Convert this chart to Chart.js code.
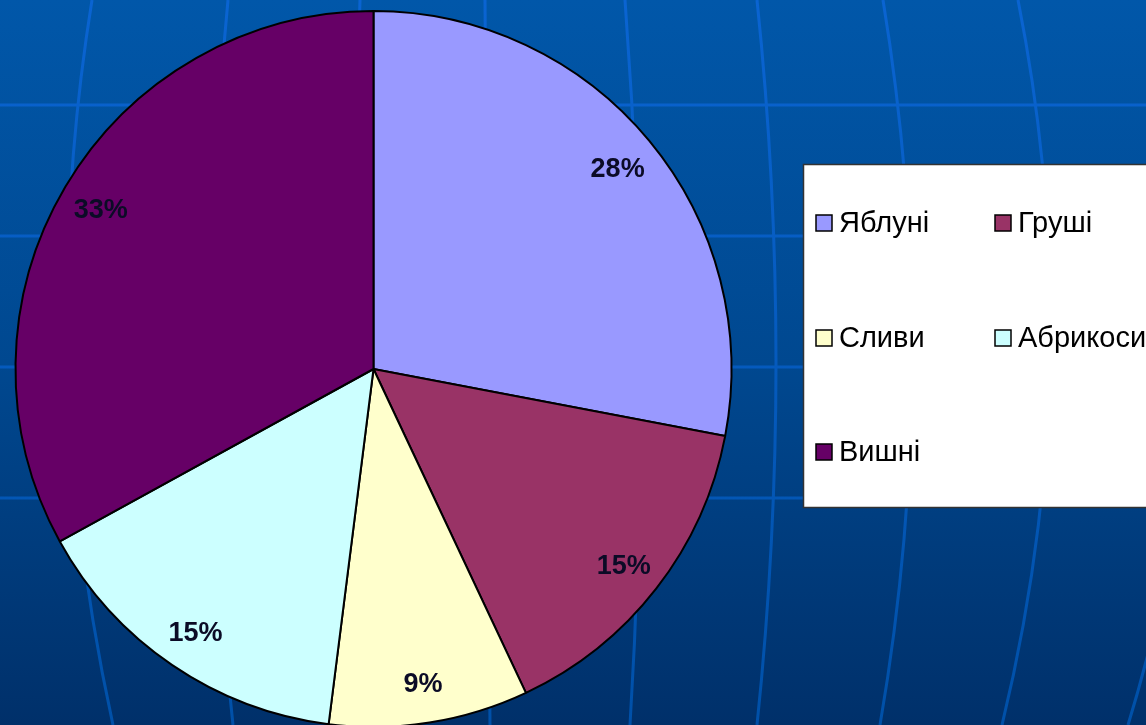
<!DOCTYPE html>
<html>
<head>
<meta charset="utf-8">
<script src="https://cdn.jsdelivr.net/npm/chart.js@4/dist/chart.umd.min.js"></script>
<style>
  html, body { margin: 0; padding: 0; background: #00448a; overflow: hidden; }
  #wrap { width: 1146px; height: 725px; position: relative; }
</style>
</head>
<body>
<div id="wrap"><canvas id="pieChart" width="1146" height="725"></canvas></div>
<script>
const categories = ['Яблуні', 'Груші', 'Сливи', 'Абрикоси', 'Вишні'];
const values = [28, 15, 9, 15, 33];
const sliceColors = ['#9999FF', '#993366', '#FFFFCC', '#CCFFFF', '#660066'];

// slide-style background: gradient plus a bent grid
const backdrop = {
    id: 'backdrop',
    beforeDraw(chart) {
        const ctx = chart.ctx;
        const w = chart.width, h = chart.height;
        ctx.save();
        const g = ctx.createLinearGradient(0, 0, 0, h);
        g.addColorStop(0, '#0157A9');
        g.addColorStop(0.5, '#004890');
        g.addColorStop(1, '#00306A');
        ctx.fillStyle = g;
        ctx.fillRect(0, 0, w, h);

        const lg = ctx.createLinearGradient(0, 0, 0, h);
        lg.addColorStop(0, '#0A64D2');
        lg.addColorStop(1, '#0050A8');
        ctx.strokeStyle = lg;
        ctx.lineWidth = 3;
        [105, 236, 367, 498].forEach(y => {
            ctx.beginPath();
            ctx.moveTo(0, y);
            ctx.lineTo(w, y);
            ctx.stroke();
        });
        const verticals = [
            [92, 68, 113], [228, 212, 233], [360, 355, 365], [485, 487, 490],
            [625, 640, 630], [757, 776, 757], [883, 912, 880], [1018, 1050, 1002],
            [1162, 1192, 1128]
        ];
        verticals.forEach(([top, mid, bottom]) => {
            const c = 2 * mid - (top + bottom) / 2;
            ctx.beginPath();
            ctx.moveTo(top, 0);
            ctx.quadraticCurveTo(c, h / 2, bottom, h);
            ctx.stroke();
        });
        ctx.restore();
    }
};

const sliceLabels = {
    id: 'sliceLabels',
    afterDatasetsDraw(chart) {
        const ctx = chart.ctx;
        const data = chart.data.datasets[0].data;
        const total = data.reduce((a, b) => a + b, 0);
        ctx.save();
        ctx.font = 'bold 27px "Liberation Sans", Arial, sans-serif';
        ctx.fillStyle = '#0B0B26';
        ctx.textAlign = 'center';
        ctx.textBaseline = 'middle';
        chart.getDatasetMeta(0).data.forEach((arc, i) => {
            const p = arc.getProps(['x', 'y', 'startAngle', 'endAngle', 'outerRadius'], true);
            const mid = (p.startAngle + p.endAngle) / 2;
            const r = p.outerRadius * 0.885;
            const pct = Math.round(data[i] / total * 100) + '%';
            ctx.fillText(pct, p.x + Math.cos(mid) * r, p.y + Math.sin(mid) * r + 3);
        });
        ctx.restore();
    }
};

const boxLegend = {
    id: 'boxLegend',
    afterDraw(chart) {
        const ctx = chart.ctx;
        ctx.save();
        ctx.fillStyle = '#FFFFFF';
        ctx.fillRect(803, 164, 360, 343);
        ctx.strokeStyle = '#333333';
        ctx.lineWidth = 1.5;
        ctx.strokeRect(803.5, 164.5, 360, 343);

        const cols = [816, 995];
        const rows = [223, 338, 452];
        ctx.font = '29px "Liberation Sans", Arial, sans-serif';
        ctx.textBaseline = 'middle';
        chart.data.labels.forEach((label, i) => {
            const x = cols[i % 2];
            const y = rows[Math.floor(i / 2)];
            ctx.fillStyle = chart.data.datasets[0].backgroundColor[i];
            ctx.fillRect(x, y - 8, 16, 16);
            ctx.strokeStyle = '#000';
            ctx.lineWidth = 1.5;
            ctx.strokeRect(x, y - 8, 16, 16);
            ctx.fillStyle = '#000';
            ctx.fillText(label, x + 23, y + 1);
        });
        ctx.restore();
    }
};

const ctx = document.getElementById('pieChart').getContext('2d');
new Chart(ctx, {
    type: 'pie',
    data: {
        labels: categories,
        datasets: [{
            data: values,
            backgroundColor: sliceColors,
            borderColor: '#000000',
            borderWidth: 2
        }]
    },
    options: {
        responsive: false,
        animation: false,
        radius: 358,
        layout: { padding: { left: 10, right: 409, top: 13, bottom: 0 } },
        plugins: {
            legend: { display: false },
            tooltip: { enabled: false }
        }
    },
    plugins: [backdrop, sliceLabels, boxLegend]
});
</script>
</body>
</html>
